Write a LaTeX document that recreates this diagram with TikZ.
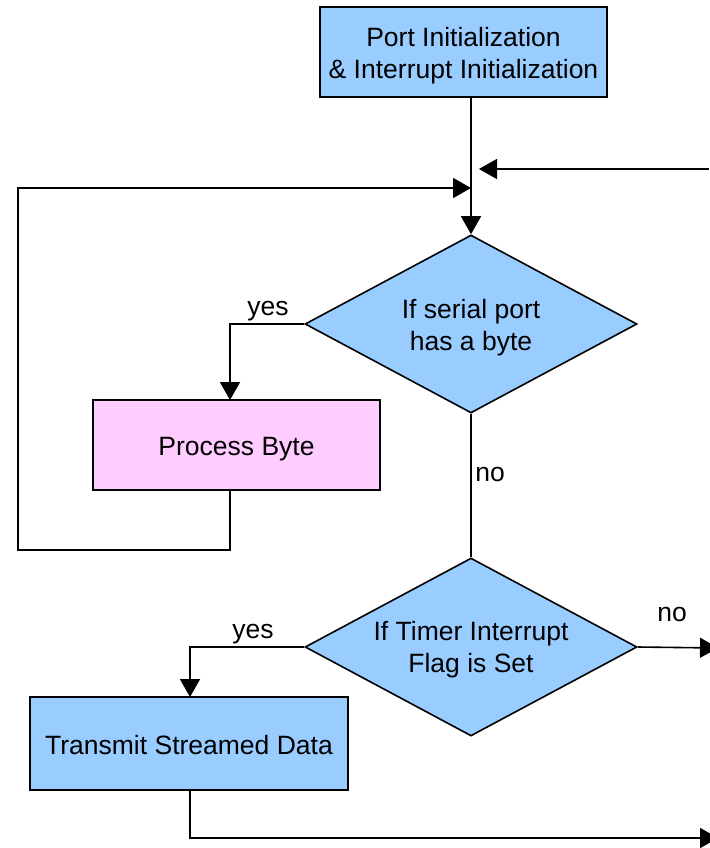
\documentclass[tikz,border=0pt]{standalone}
\usepackage{fontspec}
\setmainfont{Liberation Sans}
\usetikzlibrary{shapes.geometric,arrows.meta}
\definecolor{boxblue}{HTML}{99CCFF}
\definecolor{boxpink}{HTML}{FFCCFF}
% centred block of lines, drawn slightly below the node centre
% (box dimensions kept, so the node still centres the unshifted block)
\newcommand{\lowtext}[2][4pt]{\raisebox{-#1}[\height][\depth]{\setlength{\tabcolsep}{0pt}\begin{tabular}{c}#2\end{tabular}}}
\begin{document}
\begin{tikzpicture}[x=1pt,y=-1pt,
  font=\fontsize{26.5}{32}\selectfont,
  line width=1.6pt,
  procbox/.style={draw=black, rectangle, inner sep=0pt, align=center},
  decision/.style={draw=black, diamond, fill=boxblue, inner sep=0pt,
    shape aspect=1.87, minimum width=332pt, minimum height=178pt, align=center},
  flow/.style={-{Triangle[length=18pt,width=20pt]}},
  lbl/.style={inner sep=0pt}]
\useasboundingbox (0,0) rectangle (709,848);

% process boxes
\node[procbox, fill=boxblue, minimum width=287pt, minimum height=90pt]
  (init) at (463.5,52) {\lowtext{Port Initialization\\\& Interrupt Initialization}};
\node[procbox, fill=boxpink, minimum width=287pt, minimum height=90pt]
  (proc) at (236.5,445) {\lowtext{Process Byte}};
\node[procbox, fill=boxblue, minimum width=318pt, minimum height=93pt]
  (tx) at (189,743.5) {\lowtext[5pt]{Transmit Streamed Data}};

% decisions
\node[decision] (serial) at (471,324) {\lowtext{If serial port\\has a byte}};
\node[decision] (timer) at (471,647) {\lowtext[3pt]{If Timer Interrupt\\Flag is Set}};

% helper points
\coordinate (initout) at (serial.north |- init.south);
\coordinate (join) at (471,188);
\coordinate (rin) at (709,169);
\coordinate (rinend) at (479,169);
\coordinate (loopbl) at (18,550);
\coordinate (looptl) at (18,188);
\coordinate (procin) at (230,400);
\coordinate (procout) at (230,490);
\coordinate (noout) at (718,648);
\coordinate (txin) at (190,697);
\coordinate (txbot) at (190,790);
\coordinate (txout) at (718,838);

% connectors
\draw[flow] (initout) -- (serial.north);
\draw[flow] (rin) -- (rinend);
\draw[flow] (procout) |- (loopbl) -- (looptl) -- (join);
\draw[flow] (serial.west) -| (procin);
\draw (serial.south) -- (timer.north);
\draw[flow] (timer.east) -- (noout);
\draw[flow] (timer.west) -| (txin);
\draw[flow] (txbot) |- (txout);

% branch labels
\node[lbl] (y1) at (268,311) {yes};
\node[lbl] (n1) at (490,474) {no};
\node[lbl] (y2) at (253,634) {yes};
\node[lbl] (n2) at (672,614) {no};
\end{tikzpicture}
\end{document}
